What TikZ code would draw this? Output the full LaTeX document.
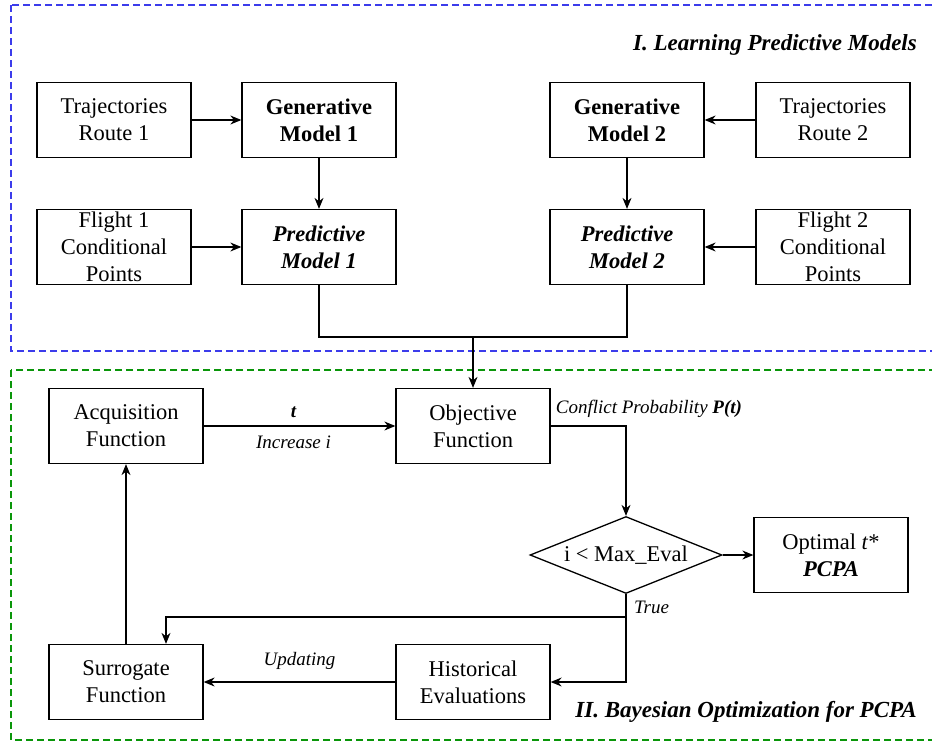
\documentclass[tikz,border=0pt]{standalone}
\usepackage{fontspec}
\setmainfont{Liberation Serif}
\usetikzlibrary{arrows.meta,shapes.geometric,calc}
\begin{document}
\begin{tikzpicture}[x=1pt,y=-1pt,
  box/.style={draw, line width=1.3pt, minimum width=154pt, minimum height=75pt, align=center, inner sep=2pt, font=\fontsize{22.5}{27}\selectfont},
  dec/.style={draw, diamond, line width=1.3pt, aspect=2.5, minimum width=192pt, minimum height=77pt, inner sep=0pt, font=\fontsize{22.5}{27}\selectfont},
  conn/.style={line width=1.2pt},
  arr/.style={conn, -{Stealth[length=11pt,width=9pt]}},
  lbl/.style={font=\fontsize{19}{22}\selectfont\itshape, inner sep=1pt},
  sect/.style={font=\fontsize{23}{27}\selectfont\bfseries\itshape, inner sep=0pt},
  region/.style={line width=2pt, dash pattern=on 7pt off 4pt}
]
\useasboundingbox (0,0) rectangle (932,744);
\fill[white] (0,0) rectangle (932,744);
\definecolor{regblue}{RGB}{60,60,235}
\definecolor{reggreen}{RGB}{10,150,10}
\draw[region, regblue] (11,5) rectangle (945,351);
\draw[region, reggreen] (11,370) rectangle (945,740);

\node[sect, anchor=east] (s1) at (917,45) {I. Learning Predictive Models};
\node[sect, anchor=east] (s2) at (917,712) {II. Bayesian Optimization for PCPA};

\node[box] (T1) at (114,120) {Trajectories\\Route 1};
\node[box] (G1) at (319,120) {\textbf{Generative}\\\textbf{Model 1}};
\node[box] (G2) at (627,120) {\textbf{Generative}\\\textbf{Model 2}};
\node[box] (T2) at (833,120) {Trajectories\\Route 2};
\node[box] (F1) at (114,247) {Flight 1\\Conditional\\Points};
\node[box] (P1) at (319,247) {\textbf{\textit{Predictive}}\\\textbf{\textit{Model 1}}};
\node[box] (P2) at (627,247) {\textbf{\textit{Predictive}}\\\textbf{\textit{Model 2}}};
\node[box] (F2) at (833,247) {Flight 2\\Conditional\\Points};

\node[box] (A) at (126,426) {Acquisition\\Function};
\node[box] (O) at (473,426) {Objective\\Function};
\node[dec] (D) at (626,555) {i < Max\_Eval};
\node[box] (Opt) at (831,555) {Optimal \textit{t}*\\\textbf{\textit{PCPA}}};
\node[box] (S) at (126,682) {Surrogate\\Function};
\node[box] (H) at (473,682) {Historical\\Evaluations};

\draw[arr] (T1) -- (G1);
\draw[arr] (G1) -- (P1);
\draw[arr] (F1) -- (P1);
\draw[arr] (T2) -- (G2);
\draw[arr] (G2) -- (P2);
\draw[arr] (F2) -- (P2);

\coordinate (J) at (473,337);
\draw[conn] (P1.south) |- (J) -| (P2.south);
\draw[arr] (J) -- (O.north);

\draw[arr] (A) -- node[lbl, above=7pt, xshift=-6pt] (lt) {\textbf{t}} node[lbl, below=8pt, xshift=-6pt] (li) {Increase i} (O);
\draw[arr] (O.east) -| (D.north);
\node[lbl, anchor=south west] (lc) at ([xshift=4pt,yshift=7pt]O.east) {Conflict Probability \textbf{P(t)}};
\draw[arr] (D) -- (Opt);

\coordinate (JT) at (626,617);
\draw[conn] (D.south) -- (JT);
\node[lbl, anchor=west] (ltr) at (633,607) {True};
\draw[arr] (JT) -| ([xshift=40pt]S.north);
\draw[arr] (JT) |- (H.east);
\draw[arr] (H) -- node[lbl, above=11pt] (lu) {Updating} (S);
\draw[arr] (S.north) -- (A.south);
\end{tikzpicture}
\end{document}
